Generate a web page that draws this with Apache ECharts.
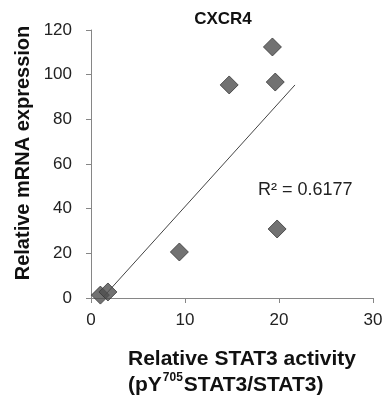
<!DOCTYPE html>
<html>
<head>
<meta charset="utf-8">
<script src="https://cdn.jsdelivr.net/npm/echarts@6/dist/echarts.min.js"></script>
<style>
  html, body { margin: 0; padding: 0; background: #fff; }
  #chart { width: 387px; height: 397px; }
</style>
</head>
<body>
<div id="chart"></div>
<script>
  // STAT3 activity vs CXCR4 expression
  const stat3Activity = [1.0, 1.8, 9.4, 14.7, 19.3, 19.6, 19.8];
  const cxcr4Expr = [1.3, 2.7, 20.6, 95.4, 112.4, 96.7, 30.9];
  const trendX = [1.3, 21.7];
  const trendY = [0.4, 95.4];
  const rSquared = "0.6177";

  const chart = echarts.init(document.getElementById("chart"));
  const axisGray = "#868686";
  const font = "Arial, 'Liberation Sans', sans-serif";

  chart.setOption({
    animation: false,
    textStyle: { fontFamily: font },
    grid: { left: 91, right: 14, top: 30, bottom: 99 },
    xAxis: {
      type: "value", min: 0, max: 30, interval: 10,
      axisLine: { show: true, lineStyle: { color: axisGray } },
      axisTick: { show: true, length: 5, lineStyle: { color: axisGray } },
      splitLine: { show: false },
      axisLabel: { fontSize: 17, color: "#222", margin: 14 }
    },
    yAxis: {
      type: "value", min: 0, max: 120, interval: 20,
      axisLine: { show: true, lineStyle: { color: axisGray } },
      axisTick: { show: true, length: 5, lineStyle: { color: axisGray } },
      splitLine: { show: false },
      axisLabel: { fontSize: 17, color: "#222", margin: 19 }
    },
    series: [
      {
        type: "line",
        data: trendX.map((x, i) => [x, trendY[i]]),
        showSymbol: false,
        lineStyle: { color: "#444", width: 1 },
        z: 2
      },
      {
        type: "scatter",
        symbol: "diamond",
        symbolSize: 18,
        data: stat3Activity.map((x, i) => [x, cxcr4Expr[i]]),
        itemStyle: { color: "#4f4f4f", borderColor: "#363636", borderWidth: 1 },
        z: 3
      }
    ],
    graphic: [
      {
        type: "text",
        x: 223, y: 19,
        style: { text: "CXCR4", fontSize: 17, fontWeight: "bold", fill: "#111", fontFamily: font, align: "center", verticalAlign: "middle" }
      },
      {
        type: "text",
        x: 23, y: 153, rotation: Math.PI / 2,
        style: { text: "Relative mRNA expression", fontSize: 20, fontWeight: "bold", fill: "#111", fontFamily: font, align: "center", verticalAlign: "middle" }
      },
      {
        type: "text",
        x: 128, y: 372,
        style: {
          text: "{b|Relative STAT3 activity}\n{b|(pY}{s|705}{b|STAT3/STAT3)}",
          align: "left", verticalAlign: "middle",
          rich: {
            b: { fontSize: 21, fontWeight: "bold", fill: "#111", lineHeight: 26, fontFamily: font },
            s: { fontSize: 12, fontWeight: "bold", fill: "#111", lineHeight: 26, verticalAlign: "top", padding: [0, 1, 10, 1], fontFamily: font }
          }
        }
      },
      {
        type: "text",
        x: 258, y: 190,
        style: { text: "R² = " + rSquared, fontSize: 18, fill: "#222", fontFamily: font, verticalAlign: "middle" }
      }
    ]
  });
</script>
</body>
</html>
